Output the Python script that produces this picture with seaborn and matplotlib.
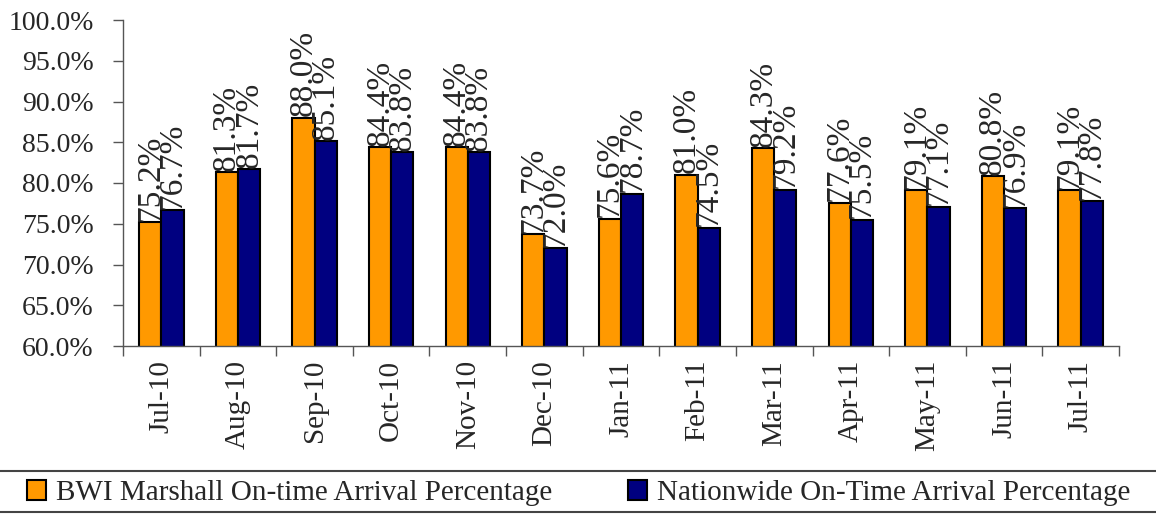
import matplotlib
matplotlib.use("Agg")
import matplotlib.pyplot as plt
from matplotlib.lines import Line2D
from matplotlib.ticker import FixedLocator, FuncFormatter
import pandas as pd
import seaborn as sns

months = ["Jul-10", "Aug-10", "Sep-10", "Oct-10", "Nov-10", "Dec-10", "Jan-11",
          "Feb-11", "Mar-11", "Apr-11", "May-11", "Jun-11", "Jul-11"]
bwi = [75.2, 81.3, 88.0, 84.4, 84.4, 73.7, 75.6, 81.0, 84.3, 77.6, 79.1, 80.8, 79.1]
nationwide = [76.7, 81.7, 85.1, 83.8, 83.8, 72.0, 78.7, 74.5, 79.2, 75.5, 77.1, 76.9, 77.8]
series_names = ["BWI Marshall On-time Arrival Percentage",
                "Nationwide On-Time Arrival Percentage"]
y_ticks = [60, 65, 70, 75, 80, 85, 90, 95, 100]

df = pd.DataFrame({
    "Month": months * 2,
    "Value": bwi + nationwide,
    "Series": [series_names[0]] * len(months) + [series_names[1]] * len(months),
})

sns.set_style("ticks")
plt.rcParams["font.family"] = ["Liberation Serif", "DejaVu Serif"]

fig = plt.figure(figsize=(11.56, 5.14), dpi=100)
W, H = 1156, 514
ax = fig.add_axes([123 / W, 1 - 346 / H, (1119 - 123) / W, (346 - 20) / H])

sns.barplot(data=df, x="Month", y="Value", hue="Series", order=months,
            hue_order=series_names, palette=["#FF9900", "#000080"],
            width=0.58, gap=0, edgecolor="black", linewidth=1.5,
            saturation=1, errorbar=None, ax=ax)

ax.set_ylim(60, 100)
ax.set_xlim(-0.5, len(months) - 0.5)
ax.set_yticks(y_ticks)
ax.yaxis.set_major_formatter(FuncFormatter(lambda v, p: f"{v:.1f}%"))
ax.tick_params(axis="y", labelsize=20, length=7, width=1, color="#555555", pad=14,
               direction="out")
ax.set_xticks(range(len(months)))
ax.set_xticklabels(months, rotation=90, fontsize=21)
ax.tick_params(axis="x", which="major", length=0, pad=10)
ax.xaxis.set_minor_locator(FixedLocator([i - 0.5 for i in range(len(months) + 1)]))
ax.tick_params(axis="x", which="minor", length=7, width=1, color="#555555",
               direction="out")
ax.set_xlabel("")
ax.set_ylabel("")
for s in ["top", "right"]:
    ax.spines[s].set_visible(False)
for s in ["left", "bottom"]:
    ax.spines[s].set_color("#555555")
    ax.spines[s].set_linewidth(1)

for cont in ax.containers:
    ax.bar_label(cont, fmt="%.1f%%", rotation=90, padding=1, fontsize=24)

handles, labels = ax.get_legend_handles_labels()
ax.get_legend().remove()
fig.legend(handles, labels, loc="center left",
           bbox_to_anchor=(27 / W, 1 - 493 / H), ncol=2, frameon=False,
           fontsize=21, borderpad=0, borderaxespad=0, handlelength=0.65,
           handleheight=0.7, handletextpad=0.35, columnspacing=2.6)

fig.add_artist(Line2D([0, 1], [1 - 471 / H, 1 - 471 / H], transform=fig.transFigure,
                      color="#444444", lw=1.5))
fig.add_artist(Line2D([0, 1], [1 - 512 / H, 1 - 512 / H], transform=fig.transFigure,
                      color="#444444", lw=1.5))

fig.savefig("out.png", dpi=100)
